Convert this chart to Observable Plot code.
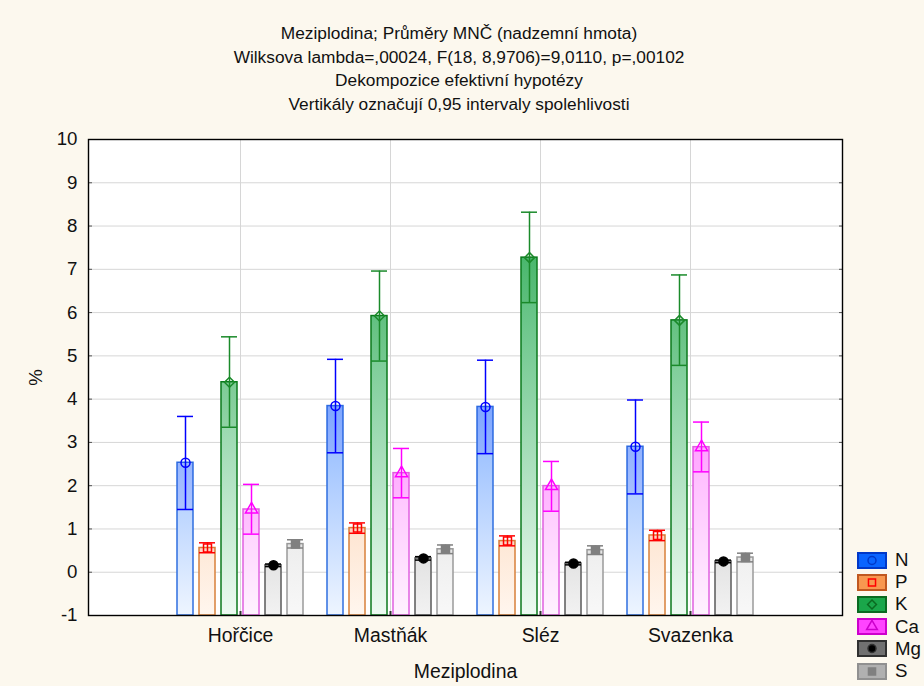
<!DOCTYPE html>
<html><head><meta charset="utf-8">
<script src="https://cdn.jsdelivr.net/npm/d3@7"></script>
<script src="https://cdn.jsdelivr.net/npm/@observablehq/plot@0.6"></script>
<style>
body{margin:0;background:#fcf8ee;font-family:"Liberation Sans",Arial,sans-serif;}
#wrap{position:relative;width:924px;height:686px;overflow:hidden;}
#title{height:125px;box-sizing:border-box;padding-top:22px;padding-right:6px;text-align:center;font-size:17.3px;line-height:23.5px;color:#111;}
#chart{position:relative;width:924px;height:561px;}
#chart svg{position:absolute;left:0;top:0;}
#legend{position:absolute;left:857px;top:549px;font-size:18.7px;color:#111;}
.row{display:flex;align-items:center;height:22.2px}
.row span{margin-left:8px}
</style></head><body>
<div id="wrap">
<div id="title">Meziplodina; Průměry MNČ (nadzemní hmota)<br>Wilksova lambda=,00024, F(18, 8,9706)=9,0110, p=,00102<br>Dekompozice efektivní hypotézy<br>Vertikály označují 0,95 intervaly spolehlivosti</div>
<div id="chart"></div>
<div id="legend"></div>
</div>
<script>
const categories = ["Hořčice", "Mastňák", "Sléz", "Svazenka"];
const elements = ["N", "P", "K", "Ca", "Mg", "S"];
const yDomain = [-1, 10];
const yTicks = [-1, 0, 1, 2, 3, 4, 5, 6, 7, 8, 9, 10];

const meanN = [2.53, 3.84, 3.82, 2.90];
const lowN  = [1.45, 2.76, 2.74, 1.81];
const highN = [3.60, 4.92, 4.90, 3.98];

const meanP = [0.56, 1.02, 0.72, 0.85];
const lowP  = [0.45, 0.90, 0.61, 0.73];
const highP = [0.68, 1.14, 0.84, 0.97];

const meanK = [4.39, 5.92, 7.27, 5.82];
const lowK  = [3.35, 4.88, 6.23, 4.78];
const highK = [5.44, 6.96, 8.32, 6.87];

const meanCa = [1.45, 2.29, 1.99, 2.89];
const lowCa  = [0.88, 1.72, 1.41, 2.32];
const highCa = [2.03, 2.86, 2.56, 3.47];

const meanMg = [0.16, 0.32, 0.20, 0.25];
const lowMg  = [0.13, 0.28, 0.17, 0.22];
const highMg = [0.19, 0.36, 0.23, 0.28];

const meanS = [0.65, 0.53, 0.51, 0.34];
const lowS  = [0.56, 0.43, 0.41, 0.24];
const highS = [0.75, 0.63, 0.61, 0.44];

const seriesMeans = [meanN, meanP, meanK, meanCa, meanMg, meanS];
const seriesLows = [lowN, lowP, lowK, lowCa, lowMg, lowS];
const seriesHighs = [highN, highP, highK, highCa, highMg, highS];

// styles
const gradTop    = ["#0a64ff", "#f89850", "#1aa64a", "#ff44ff", "#707070", "#b0b0b0"];
const gradBottom = ["#eef5ff", "#fff6ee", "#eefaf2", "#fff2ff", "#f2f2f2", "#f8f8f8"];
const barStroke  = ["#2f6fe0", "#d8803a", "#0b7a1c", "#e060e0", "#5a5a5a", "#9a9a9a"];
const whisker    = ["#0000ff", "#ff0000", "#1a8a2a", "#ff00ff", "#000000", "#808080"];
const symbols    = ["circle", "square", "diamond2", "triangle", "circle", "square"];
const dotFill    = ["none", "none", "none", "none", "#000000", "#808080"];
const legendFill = ["#0a64ff", "#f89850", "#1aa64a", "#ff44ff", "#707070", "#b0b0b0"];
const legendStroke = ["#0038c8", "#c05820", "#0a6a20", "#cc00cc", "#303030", "#909090"];

const data = [];
elements.forEach((el, j) => categories.forEach((cat, i) => {
  data.push({cat, el, mean: seriesMeans[j][i], lo: seriesLows[j][i], hi: seriesHighs[j][i]});
}));

const dims = {width: 924, height: 561, marginTop: 14, marginBottom: 71, marginLeft: 88, marginRight: 82};
const font = {background: "transparent", fontFamily: "'Liberation Sans', Arial, sans-serif", fontSize: "18.7px", color: "#111", overflow: "visible"};

// Background layer: plot area, grid, axes
const back = Plot.plot({
  ...dims,
  style: font,
  x: {type: "point", domain: categories, padding: 1},
  y: {domain: yDomain},
  marks: [
    Plot.frame({fill: "white", stroke: null}),
    Plot.gridY({ticks: yTicks, stroke: "#d6d6d6", strokeOpacity: 1}),
    Plot.gridX({stroke: "#d6d6d6", strokeOpacity: 1}),
    Plot.axisY({ticks: yTicks, tickSize: 0, tickPadding: 11, fontSize: 18.7, tickFormat: d => String(d), label: "%", labelAnchor: "center", labelArrow: "none", labelOffset: 60}),
    Plot.axisY({ticks: yTicks, anchor: "left", tickSize: -4, tickFormat: () => "", label: null, stroke: "#555"}),
    Plot.axisY({ticks: yTicks, anchor: "right", tickSize: -4, tickFormat: () => "", label: null, stroke: "#555"}),
    Plot.axisX({tickSize: 0, tickPadding: 13, fontSize: 19.4, label: "Meziplodina", labelAnchor: "center", labelArrow: "none", labelOffset: 62}),
    Plot.axisX({tickSize: -4, tickFormat: () => "", label: null, stroke: "#333", strokeWidth: 2})
  ]
});

// Foreground layer: grouped bars with confidence intervals
const marks = [];
elements.forEach((el, j) => {
  const rows = data.filter(d => d.el === el);
  marks.push(Plot.barY(rows, {fx: "cat", x: "el", y1: yDomain[0], y2: "mean", fill: `url(#grad-${j})`, stroke: barStroke[j], strokeWidth: 1.5}));
  marks.push(Plot.barY(rows, {fx: "cat", x: "el", y1: "lo", y2: "mean", fill: whisker[j], fillOpacity: 0.08}));
  marks.push(Plot.ruleX(rows, {fx: "cat", x: "el", y1: "lo", y2: "hi", stroke: whisker[j], strokeWidth: 1.5}));
  marks.push(Plot.tickY(rows, {fx: "cat", x: "el", y: "hi", stroke: whisker[j], strokeWidth: 1.5}));
  marks.push(Plot.tickY(rows, {fx: "cat", x: "el", y: "lo", stroke: whisker[j], strokeWidth: 1.5}));
  marks.push(Plot.dot(rows, {fx: "cat", x: "el", y: "mean", symbol: symbols[j], r: 4.5, stroke: whisker[j], fill: dotFill[j], strokeWidth: 1.5}));
});
const front = Plot.plot({
  ...dims,
  style: font,
  fx: {domain: categories, paddingInner: 0, paddingOuter: 0.5, axis: null, label: null},
  x: {domain: elements, paddingInner: 0.28, paddingOuter: 0.445, axis: null},
  y: {domain: yDomain, axis: null},
  marks
});

// bar gradients spanning the plot height (from the y scale)
const ys = front.scale("y");
const defs = d3.select(front).insert("defs", ":first-child");
elements.forEach((el, j) => {
  const g = defs.append("linearGradient").attr("id", `grad-${j}`)
    .attr("gradientUnits", "userSpaceOnUse")
    .attr("x1", 0).attr("x2", 0)
    .attr("y1", ys.apply(yDomain[1])).attr("y2", ys.apply(yDomain[0]));
  g.append("stop").attr("offset", 0).attr("stop-color", gradTop[j]);
  g.append("stop").attr("offset", 1).attr("stop-color", gradBottom[j]);
});

// Top layer: outer frame of the plot area
const frameTop = Plot.plot({
  ...dims,
  style: font,
  x: {type: "point", domain: categories, padding: 1, axis: null},
  y: {domain: yDomain, axis: null},
  marks: [Plot.frame({stroke: "#000", strokeWidth: 1.4})]
});

const host = document.getElementById("chart");
host.appendChild(back);
host.appendChild(front);
host.appendChild(frameTop);

// legend
const legend = d3.select("#legend");
elements.forEach((el, j) => {
  const row = legend.append("div").attr("class", "row");
  const s = row.append("svg").attr("width", 30).attr("height", 17);
  s.append("rect").attr("x", 1).attr("y", 1).attr("width", 28).attr("height", 15)
    .attr("fill", legendFill[j]).attr("stroke", legendStroke[j]).attr("stroke-width", 2);
  const sym = {circle: d3.symbolCircle, square: d3.symbolSquare, diamond2: d3.symbolDiamond2, triangle: d3.symbolTriangle}[symbols[j]];
  s.append("path").attr("transform", "translate(15,8.5)")
    .attr("d", d3.symbol(sym, 50)())
    .attr("fill", dotFill[j] === "none" ? "none" : (j === 4 ? "#000" : "#808080"))
    .attr("stroke", j === 5 ? "#808080" : (j === 1 ? "#ff0000" : legendStroke[j])).attr("stroke-width", 1.5);
  row.append("span").text(el);
});
</script>
</body></html>
